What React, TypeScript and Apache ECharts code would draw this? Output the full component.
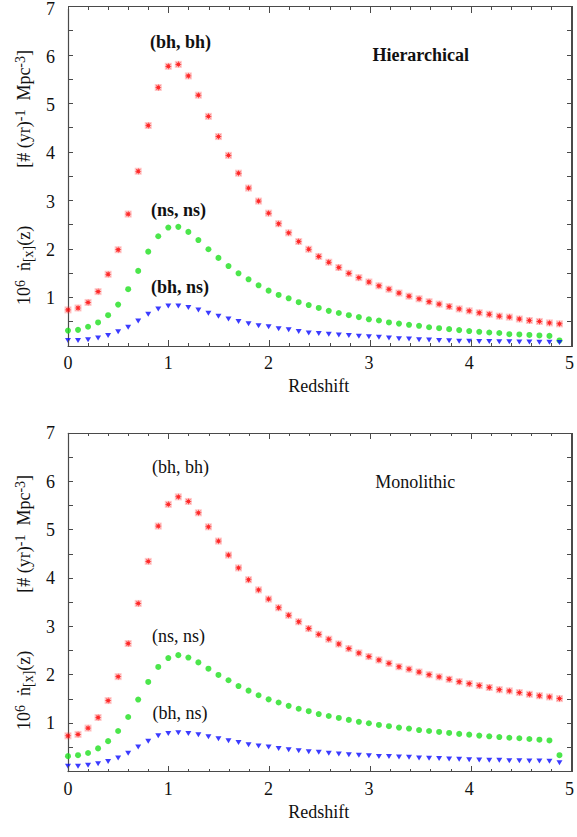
import { useEffect, useRef } from 'react';
import * as echarts from 'echarts';

// Redshift sampling of the rate curves
const redshift = [
  0.0, 0.1, 0.2, 0.3, 0.4, 0.5, 0.6, 0.7, 0.8, 0.9,
  1.0, 1.1, 1.2, 1.3, 1.4, 1.5, 1.6, 1.7, 1.8, 1.9,
  2.0, 2.1, 2.2, 2.3, 2.4, 2.5, 2.6, 2.7, 2.8, 2.9,
  3.0, 3.1, 3.2, 3.3, 3.4, 3.5, 3.6, 3.7, 3.8, 3.9,
  4.0, 4.1, 4.2, 4.3, 4.4, 4.5, 4.6, 4.7, 4.8, 4.9,
];

// Hierarchical scenario: 10^6 merger rate per unit redshift
const hierBhBh = [
  0.75, 0.79, 0.905, 1.13, 1.49, 2.0, 2.74, 3.63, 4.58, 5.37,
  5.81, 5.85, 5.61, 5.21, 4.77, 4.35, 3.96, 3.59, 3.28, 3.01,
  2.76, 2.54, 2.35, 2.17, 2.01, 1.86, 1.74, 1.63, 1.51, 1.42,
  1.33, 1.25, 1.18, 1.1, 1.035, 0.98, 0.92, 0.87, 0.82, 0.77,
  0.73, 0.69, 0.66, 0.62, 0.6, 0.56, 0.53, 0.51, 0.48, 0.46,
];
const hierNsNs = [
  0.32, 0.335, 0.4, 0.49, 0.64, 0.86, 1.18, 1.56, 1.96, 2.28,
  2.46, 2.475, 2.37, 2.2, 2.01, 1.83, 1.66, 1.51, 1.385, 1.26,
  1.15, 1.06, 0.99, 0.91, 0.85, 0.79, 0.73, 0.685, 0.64, 0.6,
  0.555, 0.53, 0.49, 0.465, 0.44, 0.42, 0.39, 0.37, 0.35, 0.33,
  0.31, 0.295, 0.28, 0.27, 0.245, 0.24, 0.23, 0.22, 0.21, 0.115,
];
const hierBhNs = [
  0.115, 0.115, 0.13, 0.165, 0.22, 0.295, 0.39, 0.52, 0.66, 0.77,
  0.83, 0.83, 0.8, 0.75, 0.68, 0.62, 0.56, 0.51, 0.46, 0.42,
  0.4, 0.36, 0.335, 0.3, 0.27, 0.26, 0.245, 0.23, 0.22, 0.205,
  0.19, 0.18, 0.165, 0.15, 0.145, 0.13, 0.125, 0.115, 0.11, 0.1,
  0.1, 0.095, 0.095, 0.09, 0.09, 0.085, 0.085, 0.08, 0.08, 0.075,
];

// Monolithic scenario
const monoBhBh = [
  0.74, 0.77, 0.9, 1.12, 1.47, 1.965, 2.65, 3.48, 4.35, 5.08,
  5.53, 5.685, 5.59, 5.355, 5.065, 4.77, 4.48, 4.215, 3.97, 3.76,
  3.57, 3.39, 3.235, 3.1, 2.96, 2.84, 2.74, 2.64, 2.545, 2.455,
  2.38, 2.31, 2.24, 2.17, 2.12, 2.06, 2.005, 1.96, 1.91, 1.86,
  1.82, 1.78, 1.74, 1.695, 1.67, 1.635, 1.6, 1.57, 1.545, 1.51,
];
const monoNsNs = [
  0.32, 0.34, 0.385, 0.48, 0.63, 0.84, 1.13, 1.49, 1.855, 2.165,
  2.35, 2.41, 2.36, 2.26, 2.13, 2.0, 1.89, 1.77, 1.675, 1.58,
  1.495, 1.43, 1.36, 1.3, 1.25, 1.19, 1.15, 1.11, 1.07, 1.03,
  1.0, 0.965, 0.94, 0.91, 0.89, 0.86, 0.84, 0.82, 0.8, 0.78,
  0.765, 0.745, 0.73, 0.715, 0.7, 0.69, 0.675, 0.66, 0.645, 0.34,
];
const monoBhNs = [
  0.11, 0.11, 0.13, 0.165, 0.21, 0.28, 0.38, 0.51, 0.63, 0.74,
  0.79, 0.805, 0.79, 0.765, 0.72, 0.68, 0.64, 0.6, 0.555, 0.53,
  0.51, 0.48, 0.45, 0.43, 0.41, 0.4, 0.38, 0.365, 0.35, 0.34,
  0.33, 0.315, 0.31, 0.3, 0.295, 0.28, 0.275, 0.27, 0.26, 0.255,
  0.245, 0.24, 0.235, 0.235, 0.225, 0.225, 0.22, 0.22, 0.215, 0.185,
];

const pairLabels = ['(bh, bh)', '(ns, ns)', '(bh, ns)'];
const xRange = [0, 5];
const yRange = [0, 7];
const xMinorStep = 0.2;
const yMinorStep = 0.5;

const SERIF = 'Liberation Serif';
const AX = '#4a4a4a';
const FS = 18;
const GRID_LEFT = 68;
const GRID_WIDTH = 504;

// eight-pointed asterisk used for the (bh, bh) markers
function asteriskPath(): string {
  const pts: string[] = [];
  for (let i = 0; i < 16; i++) {
    const r = i % 2 === 0 ? 5 : 2.2;
    const a = (Math.PI / 8) * i - Math.PI / 2;
    pts.push(`${(5 + r * Math.cos(a)).toFixed(3)} ${(5 + r * Math.sin(a)).toFixed(3)}`);
  }
  return 'path://M' + pts.join(' L') + ' Z';
}

const zip = (ys: number[]) => redshift.map((x, i) => [x, ys[i]]);

function steps(lo: number, hi: number, step: number): number[] {
  const out: number[] = [];
  const n = Math.round((hi - lo) / step);
  for (let i = 0; i <= n; i++) out.push(+(lo + i * step).toFixed(6));
  return out;
}

type PanelProps = {
  title: string;
  bold: boolean;
  bhbh: number[];
  nsns: number[];
  bhns: number[];
  gridTop: number;
  gridHeight: number;
  // label anchor points (pixels inside this panel)
  spots: number[][];
  height: number;
};

// frame edges and inward ticks drawn as a thin overlay on top of the plot box
function FrameOverlay({ top, height }: { top: number; height: number }) {
  const bottom = top + height;
  const right = GRID_LEFT + GRID_WIDTH;
  const sx = (v: number) => GRID_LEFT + ((v - xRange[0]) / (xRange[1] - xRange[0])) * GRID_WIDTH;
  const sy = (v: number) => bottom - ((v - yRange[0]) / (yRange[1] - yRange[0])) * height;
  const bar = (left: number, t: number, w: number, h: number, key: string) => (
    <div
      key={key}
      style={{ position: 'absolute', left, top: t, width: w, height: h, background: AX, pointerEvents: 'none' }}
    />
  );
  const items: any[] = [];
  items.push(bar(GRID_LEFT - 0.5, top - 0.5, GRID_WIDTH + 1, 1.2, 'top-edge'));
  items.push(bar(right - 0.6, top - 0.5, 1.2, height + 1, 'right-edge'));
  steps(xRange[0], xRange[1], xMinorStep).forEach((v, i) => {
    const major = Math.abs(v - Math.round(v)) < 1e-6;
    const len = major ? 6 : 3;
    const x = sx(v) - 0.5;
    items.push(bar(x, bottom - len, 1, len, `xb${i}`));
    items.push(bar(x, top, 1, len, `xt${i}`));
  });
  steps(yRange[0], yRange[1], yMinorStep).forEach((v, i) => {
    const y = sy(v) - 0.5;
    items.push(bar(GRID_LEFT, y, 5, 1, `yl${i}`));
    items.push(bar(right - 5, y, 5, 1, `yr${i}`));
  });
  return <>{items}</>;
}

function Panel(p: PanelProps) {
  const ref = useRef<HTMLDivElement>(null);

  useEffect(() => {
    if (!ref.current) return;
    const chart = echarts.init(ref.current, undefined, { renderer: 'svg' });

    const base = {
      gridIndex: 0,
      type: 'value',
      axisLine: { show: true, onZero: false, lineStyle: { color: AX, width: 1.2 } },
      axisTick: { show: false },
      minorTick: { show: false },
      splitLine: { show: false },
    };

    const label = (text: string, pos: number[], bold: boolean) => ({
      type: 'text',
      x: pos[0],
      y: pos[1],
      style: {
        text,
        fontFamily: SERIF,
        fontSize: FS,
        fontWeight: bold ? 'bold' : 'normal',
        fill: '#111',
        align: 'center',
        verticalAlign: 'middle',
      },
    });

    const star = asteriskPath();

    chart.setOption({
      animation: false,
      grid: [{ left: GRID_LEFT, top: p.gridTop, width: GRID_WIDTH, height: p.gridHeight }],
      xAxis: [
        {
          ...base,
          position: 'bottom',
          min: xRange[0],
          max: xRange[1],
          interval: 1,
          name: 'Redshift',
          nameLocation: 'middle',
          nameGap: 24,
          nameTextStyle: { fontFamily: SERIF, fontSize: FS, color: '#111' },
          axisLabel: { fontFamily: SERIF, fontSize: FS, color: '#111', margin: 8 },
        },
      ],
      yAxis: [
        {
          ...base,
          position: 'left',
          min: yRange[0],
          max: yRange[1],
          interval: 1,
          name:
            '{n|10}{sup|6}{n|  ṅ}{sub|[x]}{n|(z)}{gap|}{n|[# (yr)}{sup|-1}{n|  Mpc}{sup|-3}{n|]}',
          nameLocation: 'middle',
          nameRotate: 90,
          nameGap: 28,
          nameTextStyle: {
            rich: {
              n: { fontFamily: SERIF, fontSize: FS, color: '#111', lineHeight: 22 },
              sup: { fontFamily: SERIF, fontSize: 14, color: '#111', verticalAlign: 'top', lineHeight: 22 },
              sub: { fontFamily: SERIF, fontSize: 14, color: '#111', verticalAlign: 'bottom', lineHeight: 22 },
              gap: { width: 58 },
            },
          },
          axisLabel: {
            fontFamily: SERIF,
            fontSize: FS,
            color: '#111',
            margin: 13,
            formatter: (v: number) => (v === 0 ? '' : String(v)),
          },
        },
      ],
      series: [
        {
          type: 'scatter',
          data: zip(p.bhbh),
          symbol: 'rect',
          symbolSize: 7,
          itemStyle: { color: 'rgba(255,60,60,0.35)' },
          silent: true,
        },
        {
          type: 'scatter',
          data: zip(p.bhbh),
          symbol: star,
          symbolSize: 7,
          itemStyle: { color: '#ff0000' },
        },
        {
          type: 'scatter',
          data: zip(p.nsns),
          symbol: 'circle',
          symbolSize: 6,
          itemStyle: { color: '#1ee01e' },
        },
        {
          type: 'scatter',
          data: zip(p.bhns),
          symbol: 'triangle',
          symbolRotate: 180,
          symbolSize: [6, 5],
          itemStyle: { color: '#0a0aff' },
        },
      ],
      graphic: [
        label(pairLabels[0], p.spots[0], p.bold),
        label(p.title, p.spots[1], p.bold),
        label(pairLabels[1], p.spots[2], p.bold),
        label(pairLabels[2], p.spots[3], p.bold),
      ],
    });

    return () => chart.dispose();
  }, []);

  return (
    <div style={{ position: 'relative', width: 577, height: p.height }}>
      <div ref={ref} style={{ position: 'absolute', left: 0, top: 0, width: 577, height: p.height }} />
      <FrameOverlay top={p.gridTop} height={p.gridHeight} />
    </div>
  );
}

export default function App() {
  return (
    <div style={{ position: 'fixed', left: 0, top: 0, width: 577, height: 837, background: '#fff' }}>
      <Panel
        title="Hierarchical"
        bold={true}
        bhbh={hierBhBh}
        nsns={hierNsNs}
        bhns={hierBhNs}
        gridTop={6.5}
        gridHeight={339.5}
        spots={[
          [180.5, 41.7],
          [420.7, 55],
          [178.5, 210],
          [180, 286.7],
        ]}
        height={418}
      />
      <Panel
        title="Monolithic"
        bold={false}
        bhbh={monoBhBh}
        nsns={monoNsNs}
        bhns={monoBhNs}
        gridTop={15.3}
        gridHeight={338.3}
        spots={[
          [180.5, 48.7],
          [415.3, 63.7],
          [178.5, 217.7],
          [180, 295.3],
        ]}
        height={419}
      />
    </div>
  );
}
